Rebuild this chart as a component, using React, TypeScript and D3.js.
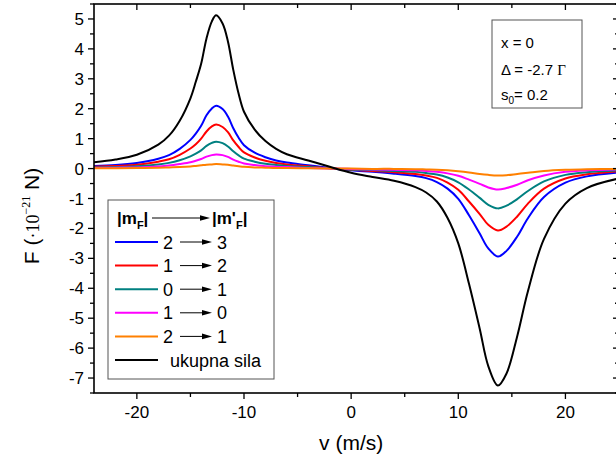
import React from "react";
import * as d3 from "d3";

const V = [-24, -22, -20, -18, -17, -16, -15, -14.5, -14, -13.5, -13, -12.6, -12, -11.5, -11, -10.5, -10, -9, -8, -7, -6, -4, -2, 0, 2, 4, 6, 7, 8, 9, 10, 11, 12, 12.8, 13.7, 14.5, 15.5, 16.5, 18, 20, 22, 25];

const F23 = [0.09, 0.12, 0.19, 0.33, 0.45, 0.66, 0.96, 1.17, 1.43, 1.78, 2.01, 2.1, 1.99, 1.74, 1.35, 1.03, 0.78, 0.53, 0.38, 0.27, 0.2, 0.11, 0.02, -0.06, -0.11, -0.17, -0.25, -0.32, -0.45, -0.67, -1.01, -1.56, -2.17, -2.67, -2.94, -2.75, -2.27, -1.66, -0.95, -0.47, -0.26, -0.13];
const F12 = [0.06, 0.09, 0.13, 0.23, 0.31, 0.46, 0.67, 0.81, 1.0, 1.24, 1.41, 1.47, 1.39, 1.22, 0.94, 0.72, 0.54, 0.37, 0.26, 0.19, 0.14, 0.08, 0.01, -0.04, -0.08, -0.12, -0.18, -0.23, -0.31, -0.47, -0.71, -1.1, -1.52, -1.88, -2.07, -1.94, -1.6, -1.17, -0.67, -0.33, -0.19, -0.09];
const F01 = [0.04, 0.05, 0.08, 0.14, 0.19, 0.28, 0.41, 0.5, 0.61, 0.76, 0.86, 0.9, 0.85, 0.74, 0.58, 0.44, 0.33, 0.23, 0.16, 0.12, 0.09, 0.05, 0.01, -0.03, -0.05, -0.08, -0.11, -0.15, -0.2, -0.3, -0.46, -0.7, -0.98, -1.21, -1.33, -1.24, -1.02, -0.75, -0.43, -0.21, -0.12, -0.06];
const F10 = [0.02, 0.03, 0.04, 0.07, 0.1, 0.15, 0.21, 0.26, 0.32, 0.4, 0.45, 0.47, 0.45, 0.39, 0.3, 0.23, 0.17, 0.12, 0.08, 0.06, 0.05, 0.02, 0.0, -0.01, -0.03, -0.04, -0.06, -0.08, -0.11, -0.16, -0.24, -0.37, -0.51, -0.63, -0.7, -0.65, -0.54, -0.39, -0.23, -0.11, -0.06, -0.03];
const F21 = [0.01, 0.01, 0.02, 0.03, 0.04, 0.05, 0.07, 0.09, 0.11, 0.13, 0.14, 0.15, 0.14, 0.13, 0.1, 0.08, 0.06, 0.04, 0.03, 0.02, 0.02, 0.01, 0, 0, -0.01, -0.01, -0.02, -0.03, -0.04, -0.06, -0.09, -0.13, -0.18, -0.21, -0.23, -0.22, -0.18, -0.14, -0.08, -0.04, -0.02, -0.01];
const FTOT = [0.21, 0.3, 0.46, 0.8, 1.1, 1.6, 2.35, 2.9, 3.5, 4.35, 4.92, 5.12, 4.85, 4.25, 3.3, 2.5, 1.9, 1.3, 0.92, 0.66, 0.48, 0.27, 0.06, -0.14, -0.28, -0.41, -0.62, -0.8, -1.1, -1.65, -2.5, -3.85, -5.35, -6.6, -7.25, -6.85, -5.6, -4.1, -2.35, -1.17, -0.65, -0.33];

const LEGEND_FROM = ["2", "1", "0", "1", "2"];
const LEGEND_TO = ["3", "2", "1", "0", "1"];
const COLORS = ["#0000ff", "#ff0000", "#008080", "#ff00ff", "#ff8000", "#000000"];
const SERIES = [F23, F12, F01, F10, F21, FTOT];

const X_TICKS = [-20, -10, 0, 10, 20];
const X_MINOR = [-15, -5, 5, 15];
const Y_TICKS = [-7, -6, -5, -4, -3, -2, -1, 0, 1, 2, 3, 4, 5];

const FONT = "Liberation Sans, Arial, sans-serif";

export default function App() {
  const W = 616, H = 469;
  const L = 94, R = 619, T = 4, B = 393;
  const x = d3.scaleLinear().domain([-24, 25]).range([L, R]);
  const y = d3.scaleLinear().domain([-7.5, 5.5]).range([B, T]);
  const yMinor = d3.range(-7.5, 5.51, 0.5).filter((v) => Math.abs(v - Math.round(v)) > 0.1);

  const line = d3
    .line<number>()
    .x((_, i) => x(V[i]))
    .y((d) => y(d))
    .curve(d3.curveCatmullRom.alpha(0.5));

  const legX = 108, legW = 166, legTop = 200, legBot = 379;
  const rowY = (i: number) => 242 + i * 23.6;

  const arrow = (x0: number, x1: number, yy: number, key: string) => (
    <g key={key}>
      <line x1={x0} x2={x1 - 8} y1={yy} y2={yy} stroke="#000" strokeWidth={1} />
      <path d={`M${x1 - 10},${yy - 2.8} L${x1},${yy} L${x1 - 10},${yy + 2.8} Z`} fill="#000" />
    </g>
  );

  return (
    <svg width={W} height={H} style={{ position: "absolute", left: 0, top: 0 }} fontFamily={FONT}>
      <rect width={W} height={H} fill="#fff" />
      <defs>
        <clipPath id="plot">
          <rect x={L} y={T} width={R - L} height={B - T} />
        </clipPath>
      </defs>

      <g clipPath="url(#plot)">
        {SERIES.map((s, i) => (
          <path key={i} d={line(s) || ""} fill="none" stroke={COLORS[i]} strokeWidth={2} strokeLinejoin="round" />
        ))}
      </g>

      {/* frame */}
      <rect x={L} y={T} width={R - L} height={B - T} fill="none" stroke="#000" strokeWidth={1.6} />

      {/* bottom / top axis */}
      {X_TICKS.map((t) => (
        <g key={"xt" + t}>
          <line x1={x(t)} x2={x(t)} y1={B} y2={B + 6} stroke="#000" strokeWidth={1.3} />
          <line x1={x(t)} x2={x(t)} y1={T} y2={T + 6} stroke="#000" strokeWidth={1.3} />
          <text x={x(t)} y={B + 25} fontSize={17} textAnchor="middle">
            {t}
          </text>
        </g>
      ))}
      {X_MINOR.map((t) => (
        <g key={"xm" + t}>
          <line x1={x(t)} x2={x(t)} y1={B} y2={B + 4} stroke="#000" strokeWidth={1.3} />
          <line x1={x(t)} x2={x(t)} y1={T} y2={T + 4} stroke="#000" strokeWidth={1.3} />
        </g>
      ))}

      {/* left / right axis */}
      {Y_TICKS.map((t) => (
        <g key={"yt" + t}>
          <line x1={L - 6} x2={L} y1={y(t)} y2={y(t)} stroke="#000" strokeWidth={1.3} />
          <line x1={R - 6} x2={R} y1={y(t)} y2={y(t)} stroke="#000" strokeWidth={1.3} />
          <text x={L - 10} y={y(t) + 6} fontSize={17} textAnchor="end">
            {t}
          </text>
        </g>
      ))}
      {yMinor.map((t) => (
        <g key={"ym" + t}>
          <line x1={L - 4} x2={L} y1={y(t)} y2={y(t)} stroke="#000" strokeWidth={1.3} />
          <line x1={R - 4} x2={R} y1={y(t)} y2={y(t)} stroke="#000" strokeWidth={1.3} />
        </g>
      ))}

      {/* axis titles */}
      <text x={x(0)} y={450} fontSize={21} textAnchor="middle">
        v (m/s)
      </text>
      <g transform="translate(39,216) rotate(-90)">
        <text x={0} y={0} fontSize={21} textAnchor="middle">
          F (
          <tspan fontFamily="Liberation Serif, serif" fontSize={18}>·10</tspan>
          <tspan fontFamily="Liberation Serif, serif" fontSize={12} dy={-9}>−21</tspan>
          <tspan dy={9}> N)</tspan>
        </text>
      </g>

      {/* annotation box */}
      <rect x={492} y={20} width={90} height={88} fill="#fff" stroke="#555" strokeWidth={1} />
      <text x={501} y={48} fontSize={15}>x = 0</text>
      <text x={501} y={75} fontSize={15}>
        Δ = -2.7 <tspan fontFamily="Liberation Serif, serif">Γ</tspan>
      </text>
      <text x={501} y={100} fontSize={15}>
        s<tspan fontSize={10} dy={4}>0</tspan>
        <tspan dy={-4}>= 0.2</tspan>
      </text>

      {/* legend */}
      <rect x={legX} y={legTop} width={legW} height={legBot - legTop} fill="#fff" stroke="#555" strokeWidth={1} />
      <text x={117} y={224} fontSize={17} fontWeight="bold">
        |m<tspan fontSize={11} dy={5}>F</tspan>
        <tspan dy={-5}>|</tspan>
      </text>
      {arrow(152, 210, 218, "harrow")}
      <text x={212} y={224} fontSize={17} fontWeight="bold">
        |m'<tspan fontSize={11} dy={5}>F</tspan>
        <tspan dy={-5}>|</tspan>
      </text>
      {LEGEND_FROM.map((f, i) => (
        <g key={"leg" + i}>
          <line x1={115} x2={158} y1={rowY(i)} y2={rowY(i)} stroke={COLORS[i]} strokeWidth={2} />
          <text x={163} y={rowY(i) + 6.5} fontSize={18}>
            {f}
          </text>
          {arrow(180, 212, rowY(i), "a" + i)}
          <text x={217} y={rowY(i) + 6.5} fontSize={18}>
            {LEGEND_TO[i]}
          </text>
        </g>
      ))}
      <line x1={115} x2={158} y1={rowY(5)} y2={rowY(5)} stroke={COLORS[5]} strokeWidth={2} />
      <text x={170} y={rowY(5) + 6.5} fontSize={18}>
        ukupna sila
      </text>
    </svg>
  );
}
